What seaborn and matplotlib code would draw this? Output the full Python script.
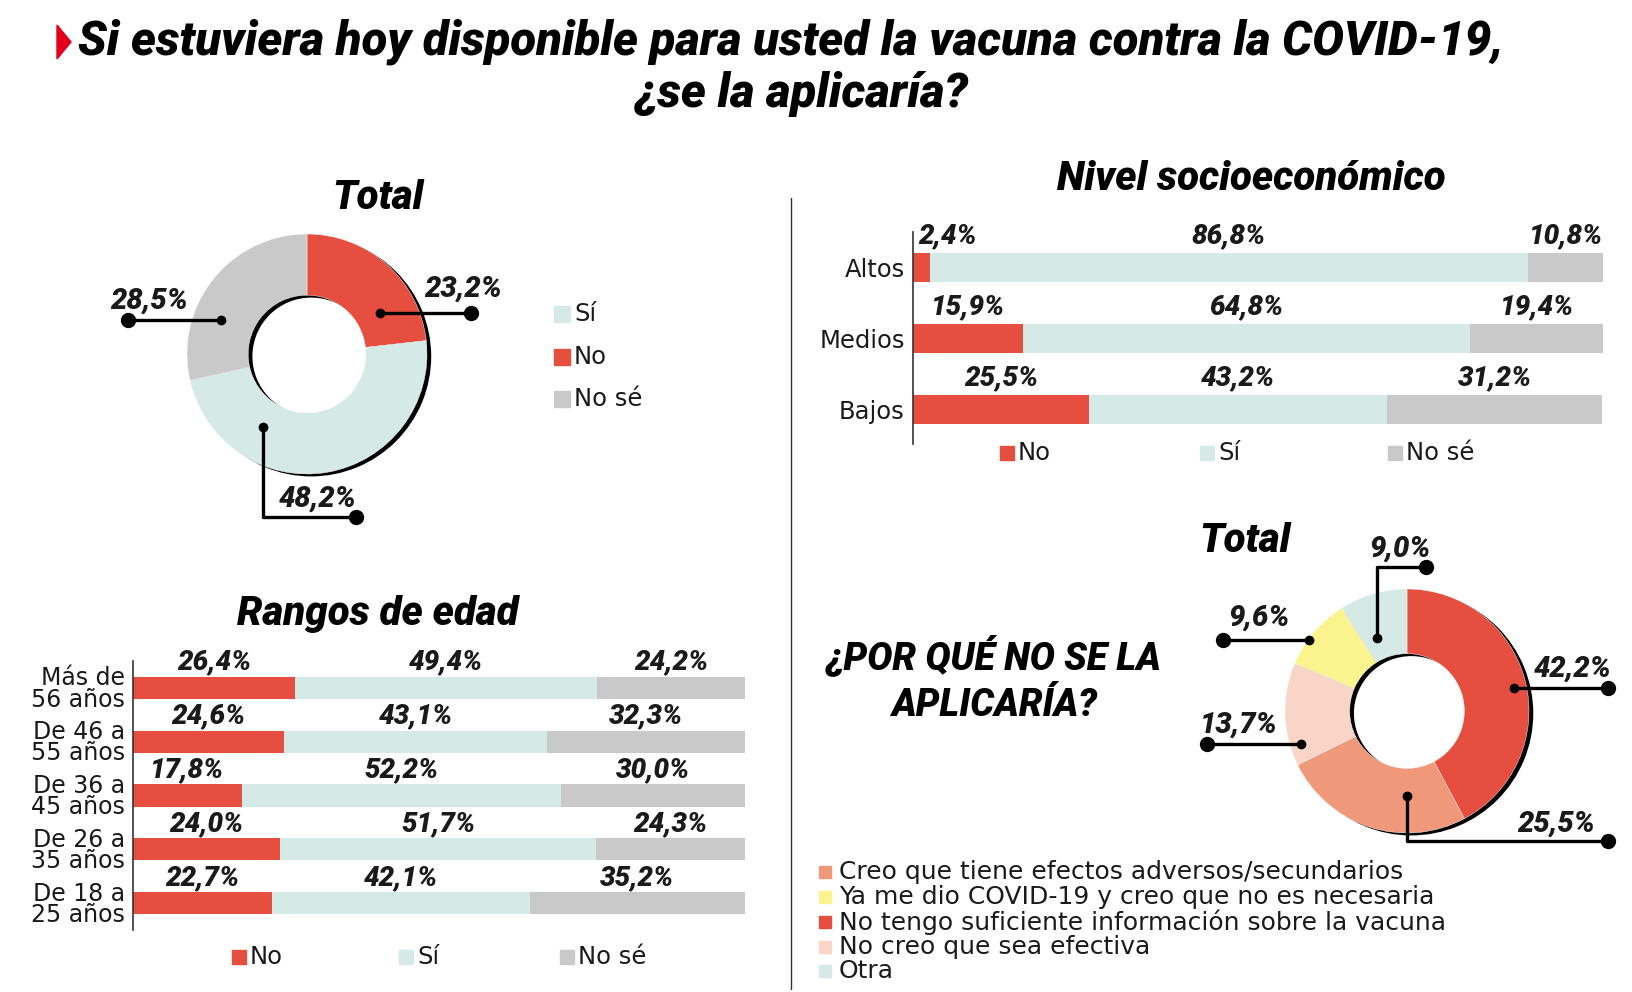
import pandas as pd
import matplotlib
matplotlib.use('Agg')
import matplotlib.pyplot as plt
import seaborn as sns
from matplotlib.patches import Polygon

W, H = 1632, 992

# ---- datos ----
respuestas = ['No', 'Sí', 'No sé']
total_resp = [23.2, 48.2, 28.5]          # No, Sí, No sé

edades = ['Más de\n56 años', 'De 46 a\n55 años', 'De 36 a\n45 años',
          'De 26 a\n35 años', 'De 18 a\n25 años']
edad_no = [26.4, 24.6, 17.8, 24.0, 22.7]
edad_si = [49.4, 43.1, 52.2, 51.7, 42.1]
edad_ns = [24.2, 32.3, 30.0, 24.3, 35.2]

niveles = ['Altos', 'Medios', 'Bajos']
nse_no = [2.4, 15.9, 25.5]
nse_si = [86.8, 64.8, 43.2]
nse_ns = [10.8, 19.4, 31.2]

razones = ['No tengo suficiente información sobre la vacuna',
           'Creo que tiene efectos adversos/secundarios',
           'No creo que sea efectiva',
           'Ya me dio COVID-19 y creo que no es necesaria',
           'Otra']
razones_vals = [42.2, 25.5, 13.7, 9.6, 9.0]
orden_leyenda = [1, 3, 0, 2, 4]

# ---- estilo ----
ROJO = '#E64F3F'
MENTA = '#D5EAE6'
GRIS = '#C9C9C9'
COL_RESP = [ROJO, MENTA, GRIS]
COL_RAZONES = [ROJO, '#F0997A', '#F9D5C8', '#FAF38E', MENTA]

sns.set_theme(style='white')
HEAD = ['Roboto', 'DejaVu Sans']
HW = 'heavy'
plt.rcParams['font.family'] = ['DejaVu Sans']
plt.rcParams['text.color'] = '#1a1a1a'

fig = plt.figure(figsize=(W / 100, H / 100), dpi=100)


def box(x0, y0, x1, y1):
    return [x0 / W, 1 - y1 / H, (x1 - x0) / W, (y1 - y0) / H]


def pct(v):
    return f'{v:.1f}%'.replace('.', ',')


def donut(cx, cy, R, vals, colors, hole):
    m = 1.15
    ax = fig.add_axes(box(cx - m * R, cy - m * R, cx + m * R, cy + m * R))
    ax.pie([1], radius=1, center=(0.035, -0.02), colors=['black'],
           startangle=90, wedgeprops=dict(width=1 - hole, linewidth=0))
    ax.pie(vals, radius=1, colors=colors, startangle=90, counterclock=False,
           wedgeprops=dict(width=1 - hole, edgecolor='white', linewidth=0.3))
    ax.set_xlim(-m, m)
    ax.set_ylim(-m, m)
    ax.axis('off')
    ax.patch.set_alpha(0)
    return ax


def barras(rect, cats, no, si, ns, off, tick_fs):
    ax = fig.add_axes(rect)
    df = pd.DataFrame({'cat': cats, 'No': no, 'Sí': si, 'No sé': ns})
    df['a'] = df['No']
    df['b'] = df['No'] + df['Sí']
    df['c'] = df['b'] + df['No sé']
    for col, c in [('c', GRIS), ('b', MENTA), ('a', ROJO)]:
        sns.barplot(data=df, x=col, y='cat', orient='h', color=c, saturation=1,
                    width=0.41, linewidth=0, ax=ax)
    ax.set_xlim(0, 100)
    ax.set_ylim(len(cats) - 0.5, -0.5)
    ax.set_xlabel('')
    ax.set_ylabel('')
    ax.set_xticks([])
    sns.despine(ax=ax, bottom=True)
    ax.spines['left'].set_color('#333333')
    ax.spines['left'].set_linewidth(1.2)
    ax.tick_params(axis='y', length=0, pad=6, labelsize=tick_fs, labelcolor='#1a1a1a')
    for t in ax.get_yticklabels():
        t.set_linespacing(0.85)
    for i in range(len(cats)):
        starts = [0, df['a'][i], df['b'][i]]
        for s, v in zip(starts, [no[i], si[i], ns[i]]):
            x = max(s + v / 2, 5.0)
            ax.text(x, i - off, pct(v), ha='center', va='center', fontsize=20,
                    fontweight=HW, fontstyle='italic', family=HEAD)
    ax.patch.set_alpha(0)
    return ax


# ---- donut total ----
donut(307, 354, 120, total_resp, COL_RESP, 0.49)

# ---- barras ----
barras(box(913, 232, 1603, 444.5), niveles, nse_no, nse_si, nse_ns, 0.44, 17.5)
barras(box(133, 661, 745, 930), edades, edad_no, edad_si, edad_ns, 0.48, 17)

# ---- donut razones ----
donut(1407, 711, 122, razones_vals, COL_RAZONES, 0.47)

# ---- capa de textos y anotaciones ----
ov = fig.add_axes([0, 0, 1, 1])
ov.set_xlim(0, W)
ov.set_ylim(H, 0)
ov.axis('off')
ov.set_zorder(10)


def head(x, y, s, size, ha='center'):
    ov.text(x, y, s, fontsize=size, fontweight=HW, fontstyle='italic',
            family=HEAD, ha=ha, va='center', color='black')


ov.add_patch(Polygon([(57, 25), (71, 42), (57, 59)], closed=True, color='#E2001A'))
head(78, 42, 'Si estuviera hoy disponible para usted la vacuna contra la COVID-19,', 34, ha='left')
head(801, 94, '¿se la aplicaría?', 34)

head(378, 198, 'Total', 29)
head(378, 614, 'Rangos de edad', 29)
head(1251, 179, 'Nivel socioeconómico', 29)
head(1245, 541, 'Total', 29)
head(994, 656, '¿POR QUÉ NO SE LA', 27)
head(994, 705, 'APLICARÍA?', 27)

ov.plot([791, 791], [198, 989], color='#333333', lw=1)


def leader(pts, txt_xy, valor):
    xs = [p[0] for p in pts]
    ys = [p[1] for p in pts]
    ov.plot(xs, ys, color='black', lw=2.4, solid_capstyle='round')
    ov.plot(xs[0], ys[0], 'o', color='black', ms=6)
    ov.plot(xs[-1], ys[-1], 'o', color='black', ms=10)
    ov.text(txt_xy[0], txt_xy[1], pct(valor), ha='center', va='center',
            fontsize=21, fontweight=HW, fontstyle='italic', family=HEAD)


# total
leader([(380, 313), (471, 313)], (463, 289), total_resp[0])
leader([(263, 427), (263, 517), (356, 517)], (317, 499), total_resp[1])
leader([(221, 320), (128, 320)], (149, 301), total_resp[2])

# razones
leader([(1514, 688), (1608, 688)], (1572, 669), razones_vals[0])
leader([(1407, 796), (1407, 841), (1608, 841)], (1556, 824), razones_vals[1])
leader([(1301, 744), (1207, 744)], (1239, 725), razones_vals[2])
leader([(1309, 640), (1223, 640)], (1259, 618), razones_vals[3])
leader([(1377, 638), (1377, 567), (1426, 567)], (1400, 549), razones_vals[4])


def leyenda(etiquetas, colores, xs, ys, fs, ms, gap):
    for lab, c, x, y in zip(etiquetas, colores, xs, ys):
        ov.plot(x, y, marker='s', ms=ms, color=c, ls='')
        ov.text(x + gap, y, lab, ha='left', va='center', fontsize=fs)


leyenda(['Sí', 'No', 'No sé'], [MENTA, ROJO, GRIS], [562] * 3, [314, 357, 399], 17.5, 11, 12)
leyenda(respuestas, COL_RESP, [1007, 1207, 1395], [453] * 3, 17.5, 10, 11)
leyenda(respuestas, COL_RESP, [239, 406, 567], [957] * 3, 17.5, 10, 11)
leyenda([razones[i] for i in orden_leyenda], [COL_RAZONES[i] for i in orden_leyenda],
        [825] * 5, [872, 897, 922, 947, 971], 18, 8, 14)

fig.savefig('out.png', dpi=100)
